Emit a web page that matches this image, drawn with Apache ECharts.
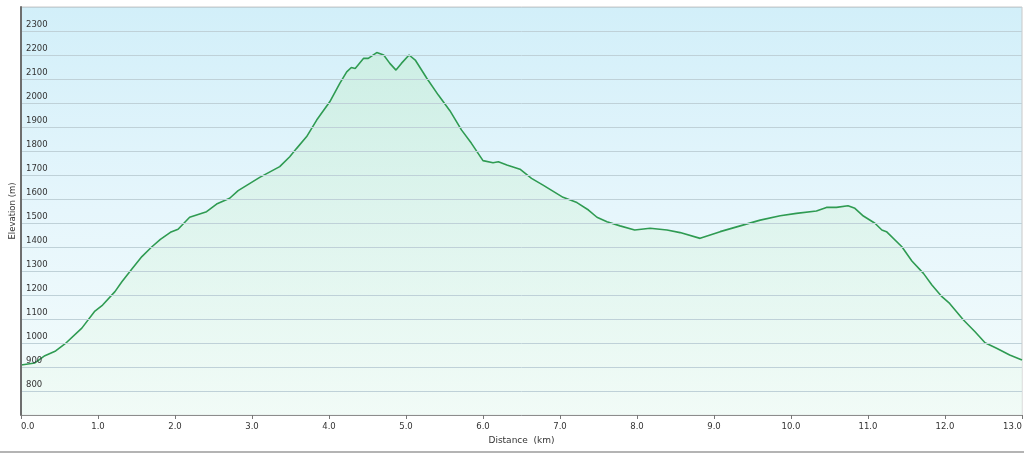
<!DOCTYPE html>
<html>
<head>
<meta charset="utf-8">
<script src="https://cdn.jsdelivr.net/npm/echarts@6/dist/echarts.min.js"></script>
<style>
html,body{margin:0;padding:0;background:#fff;}
#c{width:1024px;height:454px;}
</style>
</head>
<body>
<div id="c"></div>
<script>
// Distance (km)
var distance = [0, 0.18, 0.31, 0.45, 0.57, 0.79, 0.96, 1.06, 1.22, 1.31, 1.44, 1.57, 1.70, 1.81, 1.94, 2.04, 2.19, 2.41, 2.54, 2.71, 2.82, 3.10, 3.36, 3.49, 3.58, 3.71, 3.84, 4.01, 4.14, 4.23, 4.29, 4.34, 4.45, 4.51, 4.62, 4.71, 4.79, 4.87, 4.94, 5.04, 5.12, 5.27, 5.42, 5.57, 5.72, 5.85, 6.00, 6.13, 6.20, 6.31, 6.48, 6.63, 6.78, 7.04, 7.22, 7.37, 7.48, 7.61, 7.78, 7.97, 8.17, 8.39, 8.56, 8.82, 9.08, 9.34, 9.60, 9.86, 10.07, 10.33, 10.46, 10.59, 10.74, 10.83, 10.94, 11.09, 11.18, 11.24, 11.44, 11.57, 11.72, 11.83, 11.96, 12.06, 12.24, 12.39, 12.52, 12.67, 12.84, 13.0];
// Elevation (m)
var elevation = [908, 917, 947, 967, 996, 1062, 1133, 1158, 1214, 1255, 1308, 1360, 1401, 1432, 1461, 1474, 1524, 1547, 1579, 1603, 1635, 1690, 1735, 1776, 1811, 1860, 1929, 2005, 2082, 2130, 2148, 2144, 2186, 2186, 2210, 2200, 2165, 2137, 2165, 2200, 2179, 2103, 2033, 1968, 1888, 1832, 1760, 1751, 1755, 1742, 1724, 1686, 1658, 1607, 1585, 1554, 1524, 1505, 1488, 1471, 1478, 1471, 1460, 1436, 1464, 1488, 1512, 1530, 1540, 1550, 1565, 1565, 1572, 1561, 1529, 1499, 1471, 1464, 1401, 1342, 1290, 1242, 1193, 1165, 1096, 1047, 1001, 978, 950, 929];

var xTitle = 'Distance  (km)';
var yTitle = 'Elevation (m)';

var seriesData = distance.map(function (d, i) { return [d, elevation[i]]; });

var chart = echarts.init(document.getElementById('c'), null, {renderer: 'canvas'});
var font = 'DejaVu Sans, Verdana, sans-serif';
chart.setOption({
  animation: false,
  backgroundColor: '#ffffff',
  grid: {
    left: 21, top: 7, width: 1001, height: 408,
    containLabel: false,
    outerBoundsMode: 'none',
    show: true,
    borderColor: '#c8c8c8',
    borderWidth: 1,
    backgroundColor: new echarts.graphic.LinearGradient(0, 0, 0, 1, [
      {offset: 0, color: '#d2eff9'},
      {offset: 0.5, color: '#e6f6fc'},
      {offset: 1, color: '#f4fcfb'}
    ])
  },
  xAxis: {
    type: 'value',
    min: 0, max: 13, interval: 1,
    name: xTitle,
    nameLocation: 'middle',
    nameGap: 21,
    z: 3,
    nameTextStyle: {fontFamily: font, fontSize: 9, color: '#333'},
    axisLine: {show: true, lineStyle: {color: '#8c8c8c', width: 1}},
    axisTick: {show: true, length: 4, lineStyle: {color: '#777'}},
    axisLabel: {
      fontFamily: font, fontSize: 8.5, color: '#333', margin: 7,
      alignMinLabel: 'left', alignMaxLabel: 'right',
      formatter: function (v) { return v.toFixed(1); }
    },
    splitLine: {show: false}
  },
  yAxis: {
    type: 'value',
    min: 700, max: 2400, interval: 100,
    name: yTitle,
    nameLocation: 'middle',
    nameGap: 4,
    nameMoveOverlap: false,
    nameRotate: 90,
    z: 3,
    nameTextStyle: {fontFamily: font, fontSize: 8.5, color: '#333'},
    axisLine: {show: true, lineStyle: {color: '#6e6e6e', width: 2}},
    axisTick: {show: false},
    axisLabel: {
      inside: true, verticalAlign: 'bottom', margin: 5, padding: [0, 0, 2, 0],
      fontFamily: font, fontSize: 8.5, color: '#333',
      showMinLabel: false, showMaxLabel: false,
      formatter: function (v) { return String(v); }
    },
    splitLine: {show: true, lineStyle: {color: '#bfd1d8', width: 1}}
  },
  series: [{
    type: 'line',
    data: seriesData,
    showSymbol: false,
    smooth: false,
    lineStyle: {color: '#2f9b52', width: 1.6},
    itemStyle: {color: '#2f9b52'},
    areaStyle: {
      color: new echarts.graphic.LinearGradient(0, 0, 0, 1, [
        {offset: 0, color: '#c9eedc'},
        {offset: 1, color: '#f0fbf5'}
      ])
    },
    z: 2
  }],
  graphic: [{
    type: 'rect',
    left: 0, top: 451,
    shape: {width: 1024, height: 2},
    style: {fill: '#b4b4b4'},
    silent: true
  }]
});
</script>
</body>
</html>
